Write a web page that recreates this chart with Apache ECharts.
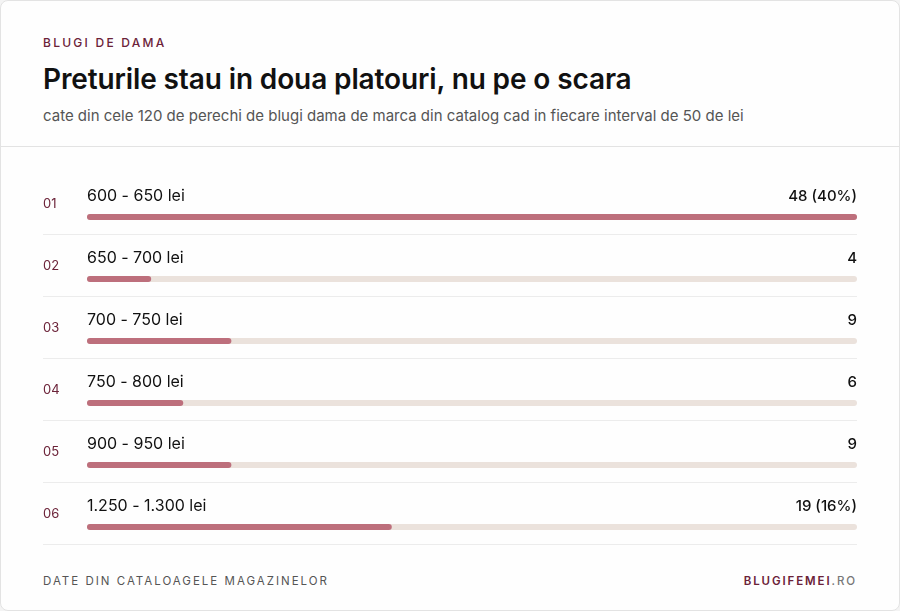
<!DOCTYPE html>
<html>
<head>
<meta charset="utf-8">
<script src="https://cdn.jsdelivr.net/npm/echarts@6/dist/echarts.min.js"></script>
<style>
  html, body { margin: 0; padding: 0; background: #f4f4f4; }
  body { width: 900px; height: 611px; position: relative; overflow: hidden; font-family: Inter, "Noto Sans", sans-serif; }
  .card { position: absolute; left: 0; top: 0; width: 898px; height: 609px; background: #fefefe; border: 1px solid #e3e3e3; border-radius: 8px; }
  .divider { position: absolute; left: 1px; right: 1px; top: 146px; height: 1px; background: #e3e3e3; }
  .kicker { position: absolute; left: 43px; top: 35px; font-size: 12px; font-weight: 500; letter-spacing: 2.25px; color: #6b2238; }
  .title { position: absolute; left: 43px; top: 62px; font-size: 28px; font-weight: 600; color: #111; letter-spacing: -0.12px; }
  .sub { position: absolute; left: 43px; top: 106px; font-size: 15px; color: #555; }
  .foot { position: absolute; left: 43px; top: 574px; font-size: 11.5px; letter-spacing: 2.0px; color: #555; }
  .brand { position: absolute; right: 43px; top: 574px; font-size: 11.5px; letter-spacing: 1.9px; color: #777; font-weight: 500; }
  .brand b { color: #6b2238; font-weight: 600; }
  #chart { position: absolute; left: 0; top: 0; width: 900px; height: 611px; }
</style>
</head>
<body>
<div class="card"></div>
<div class="divider"></div>
<div class="kicker">BLUGI DE DAMA</div>
<div class="title">Preturile stau in doua platouri, nu pe o scara</div>
<div class="sub">cate din cele 120 de perechi de blugi dama de marca din catalog cad in fiecare interval de 50 de lei</div>
<div class="foot">DATE DIN CATALOAGELE MAGAZINELOR</div>
<div class="brand"><b>BLUGIFEMEI</b>.RO</div>
<div id="chart"></div>
<script>
const categories = ['600 - 650 lei', '650 - 700 lei', '700 - 750 lei', '750 - 800 lei', '900 - 950 lei', '1.250 - 1.300 lei'];
const counts = [48, 4, 9, 6, 9, 19];
const valueLabels = ['48 (40%)', '4', '9', '6', '9', '19 (16%)'];
const rowNumbers = ['01', '02', '03', '04', '05', '06'];

const maxVal = Math.max(...counts);
const chart = echarts.init(document.getElementById('chart'), null, { renderer: 'canvas' });

const option = {
  animation: false,
  backgroundColor: 'transparent',
  grid: { left: 87, right: 43, top: 186, height: 372, containLabel: false },
  xAxis: { type: 'value', min: 0, max: maxVal, show: false },
  yAxis: {
    type: 'category', inverse: true, data: categories,
    axisLine: { show: false }, axisTick: { show: false }, splitLine: { show: false },
    axisLabel: {
      margin: 44, align: 'left', verticalAlign: 'middle',
      lineHeight: 26,
      formatter: (v, i) => rowNumbers[i] + '\n ',
      color: '#6b2238', fontSize: 13, fontFamily: 'Inter', letterSpacing: 2
    }
  },
  series: [
    {
      type: 'bar', name: 'track', data: categories.map(() => maxVal), barWidth: 6, z: 1,
      itemStyle: { color: '#ebe2dc', borderRadius: 3 },
      label: {
        show: true, position: ['100%', -18], align: 'right', verticalAlign: 'middle',
        formatter: p => valueLabels[p.dataIndex],
        color: '#111', fontSize: 15, fontWeight: 500, fontFamily: 'Inter'
      },
      silent: true
    },
    {
      type: 'bar', name: 'count', data: counts, barWidth: 6, barGap: '-100%', z: 2,
      itemStyle: { color: '#bd6f7c', borderRadius: 3 },
      label: {
        show: true, position: [0, -18], align: 'left', verticalAlign: 'middle',
        formatter: p => categories[p.dataIndex],
        color: '#111', fontSize: 16, fontWeight: 400, fontFamily: 'Inter'
      }
    }
  ]
};
chart.setOption(option);

// separators below each row, placed from the category scale
const step = chart.convertToPixel({ yAxisIndex: 0 }, categories[1]) - chart.convertToPixel({ yAxisIndex: 0 }, categories[0]);
const lines = categories.map((c) => {
  const y = chart.convertToPixel({ yAxisIndex: 0 }, c);
  const yy = Math.round(y + step * 0.274) + 0.5;
  return { type: 'line', shape: { x1: 43, y1: yy, x2: 857, y2: yy }, style: { stroke: '#ececec', lineWidth: 1 }, silent: true };
});
chart.setOption({ graphic: lines });
</script>
</body>
</html>
